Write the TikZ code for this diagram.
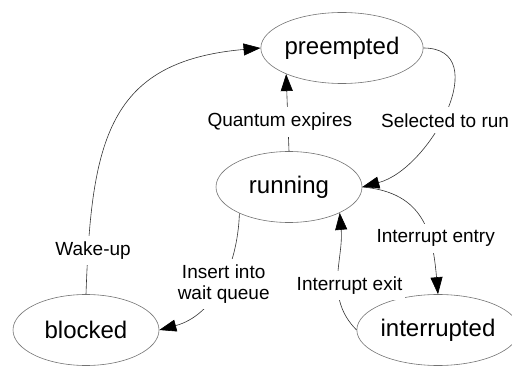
\documentclass[tikz,border=0pt]{standalone}
\usepackage{fontspec}
\setmainfont{Liberation Sans}
\usetikzlibrary{shapes.geometric,arrows.meta}

\begin{document}
\begin{tikzpicture}[
        x=1pt, y=1pt,
        state/.style={ellipse, draw=black!55, line width=0.6pt, minimum width=146pt, minimum height=71pt, inner sep=0pt, font=\fontsize{24}{28}\selectfont},
        trans/.style={draw=black!80, line width=0.6pt, -{Triangle[length=17pt,width=12pt,color=black]}},
    ]
    \tikzstyle{lbl}=[fill=white, inner xsep=3pt, inner ysep=6pt, align=center, font=\fontsize{19}{21}\selectfont]
    \useasboundingbox (0,0) rectangle (512,367);
    \node[state] (preempted) at (342,319) {preempted};
    \node[state] (running) at (289,180) {running};
    \node[state] (blocked) at (86,37) {blocked};
    \node[state] (interrupted) at (438,37) {interrupted};
    \draw[trans] (running.north) -- node[lbl, pos=0.38, xshift=-8pt]{Quantum expires} (preempted.205);
    \draw[trans] (preempted.east) to[out=0, in=15, looseness=1.2] node[lbl, pos=0.55, xshift=5pt]{Selected to run} (running.east);
    \draw[trans] (running.east) to[out=-5, in=95, looseness=1.2] node[lbl, pos=0.62, xshift=8pt, yshift=-4pt]{Interrupt entry} (interrupted.north);
    \draw[trans] (interrupted.west) to[out=135, in=-85] node[lbl, pos=0.42, xshift=12pt]{Interrupt exit} (running.-27);
    \draw[trans] (running.208) to[out=-92, in=15] node[lbl, pos=0.5, xshift=5pt, yshift=3pt]{Insert into\\wait queue} (blocked.east);
    \draw[trans] (blocked.north) to[out=88, in=185, looseness=1.3] node[lbl, pos=0.1, xshift=5pt]{Wake-up} (preempted.west);
\end{tikzpicture}
\end{document}
